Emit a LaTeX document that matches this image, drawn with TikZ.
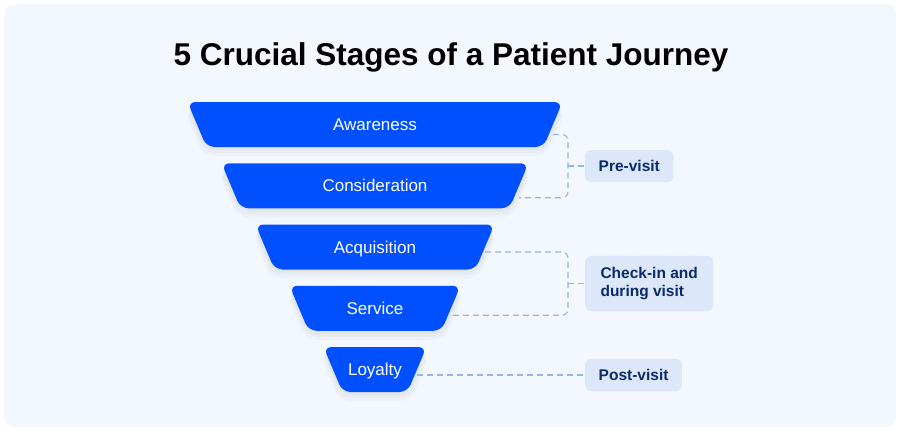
\documentclass[tikz,border=0pt]{standalone}
\usepackage{fontspec}
\setmainfont{Liberation Sans}
\usetikzlibrary{positioning}

\definecolor{panelbg}{HTML}{F3F7FE}
\definecolor{stageblue}{HTML}{0050FF}
\definecolor{tagbg}{HTML}{DCE8FA}
\definecolor{tagtext}{HTML}{0B2A6A}
\definecolor{dashblue}{HTML}{94B6EC}

\pgfdeclarelayer{back}
\pgfsetlayers{back,main}

\begin{document}
\begin{tikzpicture}[x=1pt, y=-1pt,
    stage/.style={text=white, font=\fontsize{17}{19}\selectfont, inner sep=0pt,
      minimum height=45pt, text height=12pt, text depth=0pt},
    tag/.style={fill=tagbg, rounded corners=5pt, text=tagtext, anchor=west,
      font=\bfseries\fontsize{15.5}{18.5}\selectfont, align=left,
      inner xsep=13.5pt, inner ysep=6pt, minimum height=32pt},
    link/.style={dashblue, line width=1.1pt, dash pattern=on 6pt off 4pt, rounded corners=6pt}]

    \useasboundingbox (0,0) rectangle (900,431);
    % background panel
    \begin{pgfonlayer}{back}
      \fill[white] (0,0) rectangle (900,431);
      \fill[panelbg, rounded corners=10pt] (4,4) rectangle (896,427);
    \end{pgfonlayer}

    % title
    \node[font=\bfseries\fontsize{31.5}{36}\selectfont, anchor=base] (title) at (451,65)
      {5 Crucial Stages of a Patient Journey};

    % funnel stages, widest on top
    \foreach \name/\txt [count=\i] in {aw/Awareness, co/Consideration, ac/Acquisition, se/Service, lo/Loyalty} {
      \pgfmathsetmacro{\ytop}{102+61.25*(\i-1)}
      \pgfmathsetmacro{\hw}{187.5-34*(\i-1)}
      \pgfmathsetmacro{\mw}{2*\hw-19}
      \begin{pgfonlayer}{back}
        \foreach \k in {3,6,9}
          \fill[black, opacity=0.025, rounded corners=10pt]
            (375-\hw-\k/3,\ytop+\k) -- (375+\hw+\k/3,\ytop+\k)
            -- (375+\hw-19+\k/3,\ytop+45+\k) -- (375-\hw+19-\k/3,\ytop+45+\k) -- cycle;
      \end{pgfonlayer}
      \fill[stageblue, rounded corners=8pt]
        (375-\hw,\ytop) -- (375+\hw,\ytop) -- (375+\hw-19,\ytop+45) -- (375-\hw+19,\ytop+45) -- cycle;
      \node[stage, minimum width=\mw pt] (\name) at (375,\ytop+22.5) {\txt};
    }

    % visit phases
    \node[tag] (pre) at (585,166) {Pre-visit};
    \node[tag, inner ysep=11pt, minimum width=128pt] (during) at (585,283.5) {Check-in and\\during visit};
    \node[tag] (post) at (585,375) {Post-visit};

    % dashed brackets, drawn under the funnel
    \begin{pgfonlayer}{back}
      \draw[link] ([yshift=-10pt]aw.east) -| ([xshift=-17pt]pre.west) |- ([yshift=-12pt]co.east);
      \draw[link] ([xshift=-17pt]pre.west) -- (pre.west);
      \draw[link] ([yshift=-5pt]ac.east) -| ([xshift=-17pt]during.west) |- ([yshift=-7pt]se.east);
      \draw[link] ([xshift=-17pt]during.west) -- (during.west);
      \draw[link] (post.west -| lo.east) -- (post.west);
    \end{pgfonlayer}
\end{tikzpicture}
\end{document}
